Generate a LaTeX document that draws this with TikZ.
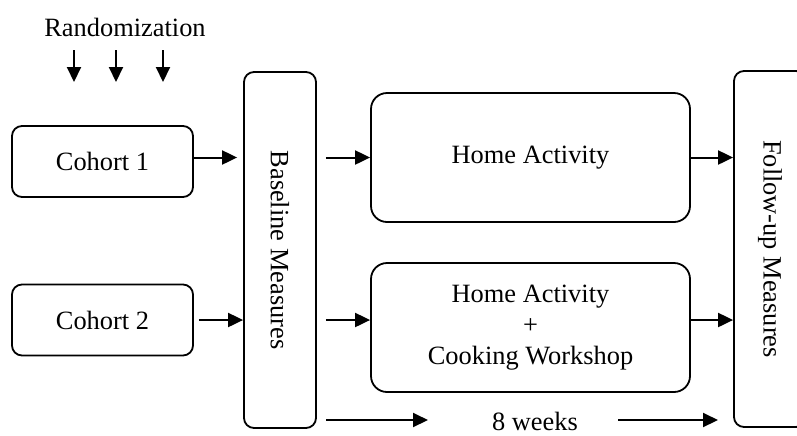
\documentclass[tikz,border=0pt]{standalone}
\usepackage{fontspec}
\setmainfont{Liberation Serif}
\usepackage{tikz}
\usetikzlibrary{arrows.meta}
\tikzstyle{cohort} = [rectangle, rounded corners=5pt, minimum width=90.5pt, minimum height=35.5pt, text centered, draw=black, line width=0.9pt]
\tikzstyle{measure} = [rectangle, rounded corners=5pt, minimum width=36pt, minimum height=178pt, text centered, draw=black, line width=0.9pt]
\tikzstyle{activity} = [rectangle, rounded corners=8pt, minimum width=159.5pt, minimum height=64.5pt, align=center, draw=black, line width=0.9pt]
\tikzstyle{arrow} = [line width=1pt,->,>={Triangle[length=7.5pt,width=7pt]}]

\begin{document}
\begin{tikzpicture}[x=0.5pt, y=-0.5pt, font=\fontsize{13.2}{15.5}\selectfont]
        \useasboundingbox (0,0) rectangle (797,435);
        \node (rand) at (125,27) {Randomization};
        \coordinate (r1s) at (74,50);  \coordinate (r1e) at (74,82);
        \coordinate (r2s) at (116,50); \coordinate (r2e) at (116,82);
        \coordinate (r3s) at (163,50); \coordinate (r3e) at (163,82);
        \draw [arrow] (r1s) -- (r1e);
        \draw [arrow] (r2s) -- (r2e);
        \draw [arrow] (r3s) -- (r3e);
        \node (c1) [cohort] at (102.5,161.5) {Cohort 1};
        \node (c2) [cohort] at (102.5,320) {Cohort 2};
        \node (bl) [measure] at (280,250) {\rotatebox{-90}{Baseline Measures}};
        \node (ha) [activity] at (530.5,157.5) {Home Activity};
        \node (hc) [activity] at (530.5,327.5) {Home Activity\\+\\Cooking Workshop};
        \node (fu) [measure] at (770,249) {\rotatebox{-90}{Follow-up Measures}};
        \draw [arrow, shorten >=3pt] (c1.east |- ha.west) -- (bl.west |- ha.west);
        \draw [arrow, shorten <=2.5pt] (c2.east) -- (bl.west |- c2.east);
        \draw [arrow, shorten <=4.5pt] (bl.east |- ha.west) -- (ha.west);
        \draw [arrow, shorten <=4.5pt] (bl.east |- c2.east) -- (hc.west |- c2.east);
        \draw [arrow] (ha.east) -- (fu.west |- ha.east);
        \draw [arrow] (hc.east |- c2.east) -- (fu.west |- c2.east);
        % time line
        \node (wk) at (535,421) {8 weeks};
        \coordinate (w1) at (326,420); \coordinate (w2) at (428,420);
        \coordinate (w3) at (618,420); \coordinate (w4) at (718,420);
        \draw [arrow] (w1) -- (w2);
        \draw [arrow] (w3) -- (w4);
    \end{tikzpicture}
\end{document}
